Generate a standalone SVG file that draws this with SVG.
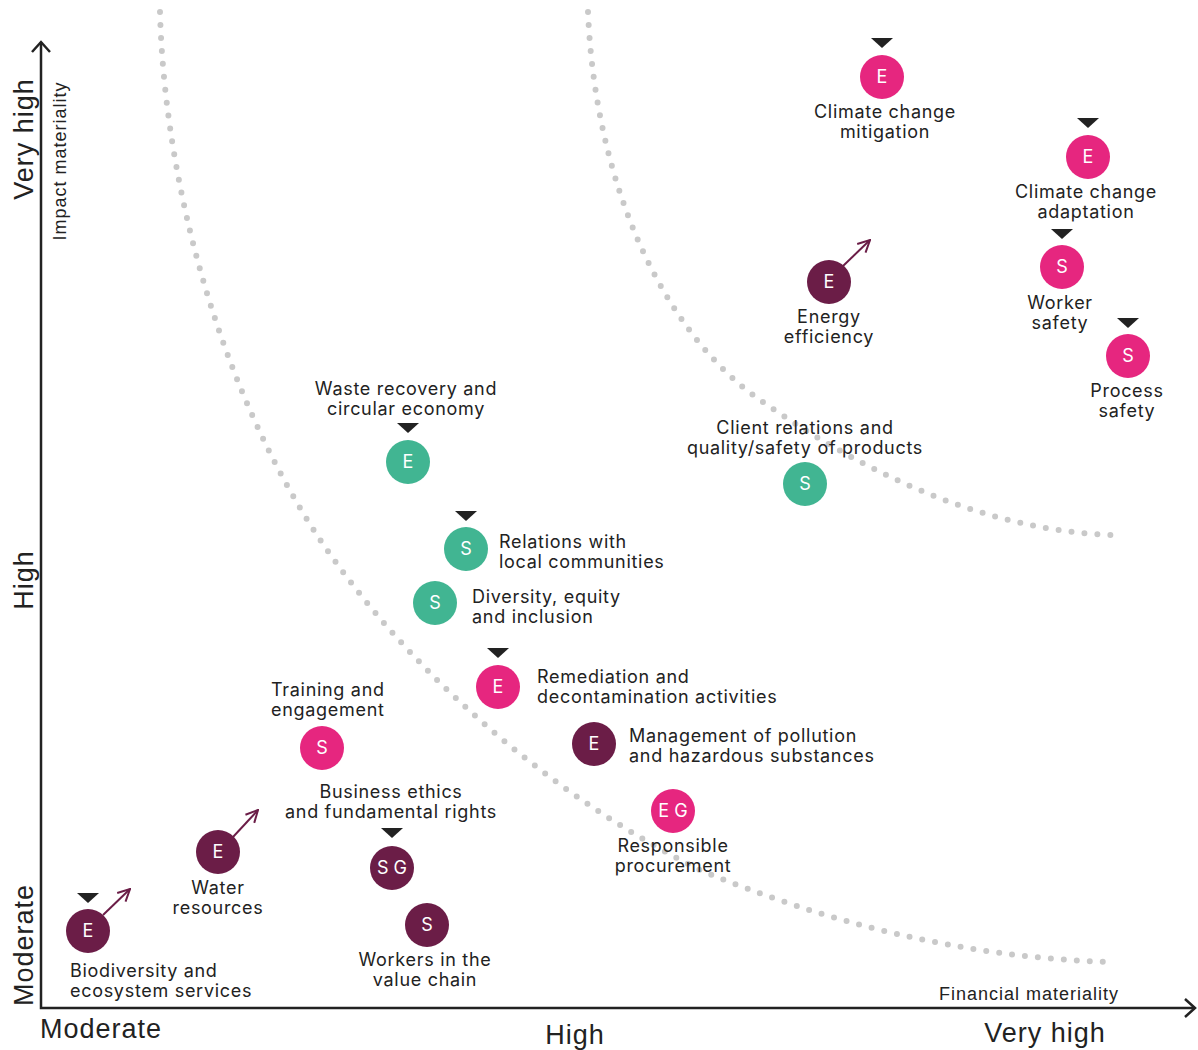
<svg xmlns="http://www.w3.org/2000/svg" width="1198" height="1050" viewBox="0 0 1198 1050">
<style>
.lbl{font-family:"Inter","Noto Sans",sans-serif;font-size:18px;letter-spacing:0.7px;fill:#222}
.c{text-anchor:middle}
.ax{font-family:"Liberation Sans",Arial,sans-serif;fill:#222}
.big{font-size:27px;letter-spacing:1px}
.sm{font-size:18px;letter-spacing:1px}
.ltr{font-family:"Inter","Noto Sans",sans-serif;font-size:18px;fill:#fff;text-anchor:middle}
.pink{fill:#E6267F}
.plum{fill:#6B1D47}
.green{fill:#41B592}
.tri{fill:#222}
.dots{fill:none;stroke:#c9c9c9;stroke-width:6;stroke-linecap:round;stroke-dasharray:0 13}
.trend{fill:none;stroke:#6B1D47;stroke-width:2}
</style>
<defs>
<marker id="ah" viewBox="0 0 14 14" refX="13" refY="7" markerWidth="14" markerHeight="14" markerUnits="userSpaceOnUse" orient="auto">
<path d="M1,1 L13,7 L1,13" fill="none" stroke="#6B1D47" stroke-width="2"/>
</marker>
</defs>
<rect width="1198" height="1050" fill="#fff"/>
<g id="curves">
<path class="dots" d="M160,12 C165,200 230,420 340,568 C430,690 560,800 700,870 C820,920 960,958 1112,962"/>
<path class="dots" d="M588,12 C595,180 660,330 760,400 C860,470 980,530 1112,535"/>
</g>
<g id="axes">
<path d="M41,42 V1008 H1195" fill="none" stroke="#222" stroke-width="2.5"/>
<path d="M32,52 L41,42 L50,52" fill="none" stroke="#222" stroke-width="2.5"/>
<path d="M1185,999 L1195,1008 L1185,1017" fill="none" stroke="#222" stroke-width="2.5"/>
<text class="ax big" transform="translate(33,139) rotate(-90)" text-anchor="middle">Very high</text>
<text class="ax big" transform="translate(33,580) rotate(-90)" text-anchor="middle">High</text>
<text class="ax big" transform="translate(33,945) rotate(-90)" text-anchor="middle">Moderate</text>
<text class="ax sm" transform="translate(66,161) rotate(-90)" text-anchor="middle">Impact materiality</text>
<text class="ax big" x="40" y="1038">Moderate</text>
<text class="ax big" x="575" y="1044" text-anchor="middle">High</text>
<text class="ax big" x="1045" y="1042" text-anchor="middle">Very high</text>
<text class="ax sm" x="1029" y="1000" text-anchor="middle">Financial materiality</text>
</g>
<g id="connectors">
<line class="trend" x1="843" y1="266" x2="870" y2="240" marker-end="url(#ah)"/>
<line class="trend" x1="233" y1="837" x2="258" y2="810" marker-end="url(#ah)"/>
<line class="trend" x1="103" y1="915" x2="130" y2="889" marker-end="url(#ah)"/>
</g>
<g id="climate-mitigation">
<polygon class="tri" points="871,38 893,38 882,48"/>
<circle class="pink" cx="882" cy="77" r="22"/><text class="ltr" x="882" y="83">E</text>
<text class="lbl c" x="885" y="118">Climate change</text><text class="lbl c" x="885" y="138">mitigation</text>
</g>
<g id="climate-adaptation">
<polygon class="tri" points="1077,118 1099,118 1088,128"/>
<circle class="pink" cx="1088" cy="157" r="22"/><text class="ltr" x="1088" y="163">E</text>
<text class="lbl c" x="1086" y="198">Climate change</text><text class="lbl c" x="1086" y="218">adaptation</text>
</g>
<g id="worker-safety">
<polygon class="tri" points="1051,229 1073,229 1062,239"/>
<circle class="pink" cx="1062" cy="267" r="22"/><text class="ltr" x="1062" y="273">S</text>
<text class="lbl c" x="1060" y="309">Worker</text><text class="lbl c" x="1060" y="329">safety</text>
</g>
<g id="process-safety">
<polygon class="tri" points="1117,318 1139,318 1128,328"/>
<circle class="pink" cx="1128" cy="356" r="22"/><text class="ltr" x="1128" y="362">S</text>
<text class="lbl c" x="1127" y="397">Process</text><text class="lbl c" x="1127" y="417">safety</text>
</g>
<g id="energy-efficiency">
<circle class="plum" cx="829" cy="282" r="22"/><text class="ltr" x="829" y="288">E</text>
<text class="lbl c" x="829" y="323">Energy</text><text class="lbl c" x="829" y="343">efficiency</text>
</g>
<g id="client-relations">
<circle class="green" cx="805" cy="484" r="22"/><text class="ltr" x="805" y="490">S</text>
<text class="lbl c" x="805" y="434">Client relations and</text><text class="lbl c" x="805" y="454">quality/safety of products</text>
</g>
<g id="waste-recovery">
<polygon class="tri" points="397,423 419,423 408,433"/>
<circle class="green" cx="408" cy="462" r="22"/><text class="ltr" x="408" y="468">E</text>
<text class="lbl c" x="406" y="395">Waste recovery and</text><text class="lbl c" x="406" y="415">circular economy</text>
</g>
<g id="local-communities">
<polygon class="tri" points="455,511 477,511 466,521"/>
<circle class="green" cx="466" cy="549" r="22"/><text class="ltr" x="466" y="555">S</text>
<text class="lbl" x="499" y="548">Relations with</text><text class="lbl" x="499" y="568">local communities</text>
</g>
<g id="diversity">
<circle class="green" cx="435" cy="603" r="22"/><text class="ltr" x="435" y="609">S</text>
<text class="lbl" x="472" y="603">Diversity, equity</text><text class="lbl" x="472" y="623">and inclusion</text>
</g>
<g id="remediation">
<polygon class="tri" points="487,648 509,648 498,658"/>
<circle class="pink" cx="498" cy="687" r="22"/><text class="ltr" x="498" y="693">E</text>
<text class="lbl" x="537" y="683">Remediation and</text><text class="lbl" x="537" y="703">decontamination activities</text>
</g>
<g id="pollution">
<circle class="plum" cx="594" cy="744" r="22"/><text class="ltr" x="594" y="750">E</text>
<text class="lbl" x="629" y="742">Management of pollution</text><text class="lbl" x="629" y="762">and hazardous substances</text>
</g>
<g id="training">
<circle class="pink" cx="322" cy="748" r="22"/><text class="ltr" x="322" y="754">S</text>
<text class="lbl" x="271" y="696">Training and</text><text class="lbl" x="271" y="716">engagement</text>
</g>
<g id="business-ethics">
<polygon class="tri" points="381,828 403,828 392,838"/>
<circle class="plum" cx="392" cy="868" r="22"/><text class="ltr" x="392" y="874">S G</text>
<text class="lbl c" x="391" y="798">Business ethics</text><text class="lbl c" x="391" y="818">and fundamental rights</text>
</g>
<g id="procurement">
<circle class="pink" cx="673" cy="811" r="22"/><text class="ltr" x="673" y="817">E G</text>
<text class="lbl c" x="673" y="852">Responsible</text><text class="lbl c" x="673" y="872">procurement</text>
</g>
<g id="water">
<circle class="plum" cx="218" cy="852" r="22"/><text class="ltr" x="218" y="858">E</text>
<text class="lbl c" x="218" y="894">Water</text><text class="lbl c" x="218" y="914">resources</text>
</g>
<g id="value-chain">
<circle class="plum" cx="427" cy="925" r="22"/><text class="ltr" x="427" y="931">S</text>
<text class="lbl c" x="425" y="966">Workers in the</text><text class="lbl c" x="425" y="986">value chain</text>
</g>
<g id="biodiversity">
<polygon class="tri" points="77,893 99,893 88,903"/>
<circle class="plum" cx="88" cy="931" r="22"/><text class="ltr" x="88" y="937">E</text>
<text class="lbl" x="70" y="977">Biodiversity and</text><text class="lbl" x="70" y="997">ecosystem services</text>
</g>
</svg>
